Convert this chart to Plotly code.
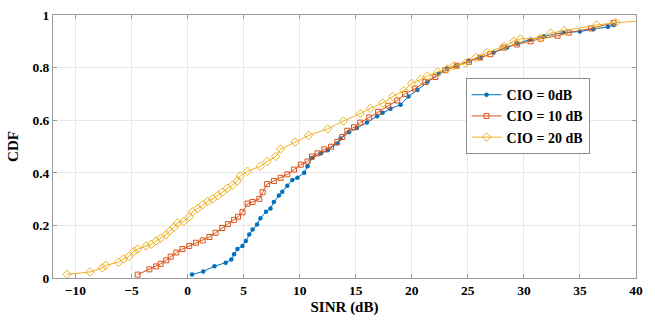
import plotly.graph_objects as go

# ---- data ----
blue_x = [0.4, 1.4, 2.4, 3.4, 3.9, 4.15, 4.45, 4.9, 5.2, 5.5, 5.8, 6.2, 6.5, 7.0, 7.4, 7.7,
          8.15, 8.45, 8.9, 9.35, 9.8, 10.4, 10.7, 11.1, 11.9, 12.5, 13.35, 13.65, 14.4, 15.1,
          16.0, 16.9, 17.4, 18.1, 19.0, 19.7, 20.5, 21.4, 22.4, 23.15, 24.0, 25.1, 26.1, 27.3,
          28.5, 29.4, 30.6, 31.8, 33.5, 35.0, 36.2, 37.5, 38.0]
blue_y = [0.013, 0.025, 0.045, 0.058, 0.07, 0.09, 0.11, 0.122, 0.141, 0.165, 0.184, 0.203,
          0.227, 0.252, 0.264, 0.289, 0.314, 0.328, 0.351, 0.373, 0.381, 0.40, 0.425, 0.456,
          0.474, 0.486, 0.511, 0.53, 0.554, 0.57, 0.591, 0.615, 0.628, 0.644, 0.659, 0.69,
          0.715, 0.746, 0.777, 0.797, 0.807, 0.826, 0.838, 0.857, 0.876, 0.892, 0.907, 0.919,
          0.933, 0.937, 0.946, 0.955, 0.962]

orange_x = [-4.45, -3.4, -2.8, -2.4, -1.9, -1.5, -1.0, -0.45, 0.15, 0.75, 1.35, 1.95, 2.5,
            3.1, 3.6, 4.15, 4.5, 4.9, 5.35, 5.8, 6.4, 6.7, 7.1, 7.7, 8.3, 8.9, 9.5, 10.1,
            10.7, 11.1, 11.6, 12.2, 12.8, 13.35, 13.8, 14.25, 14.85, 15.4, 16.2, 17.0, 17.9,
            18.7, 19.4, 20.3, 21.2, 22.1, 23.0, 24.0, 25.1, 26.1, 27.0, 28.2, 29.4, 30.6,
            31.5, 33.0, 34.0, 36.0, 38.0]
orange_y = [0.013, 0.033, 0.044, 0.054, 0.067, 0.081, 0.097, 0.11, 0.122, 0.134, 0.143,
            0.156, 0.172, 0.19, 0.205, 0.221, 0.233, 0.25, 0.283, 0.289, 0.301, 0.326, 0.357,
            0.369, 0.381, 0.394, 0.412, 0.431, 0.443, 0.462, 0.474, 0.489, 0.499, 0.517,
            0.536, 0.56, 0.573, 0.591, 0.61, 0.632, 0.655, 0.675, 0.7, 0.72, 0.745, 0.764,
            0.79, 0.807, 0.822, 0.838, 0.851, 0.876, 0.888, 0.9, 0.91, 0.921, 0.933, 0.949,
            0.97]

yellow_x = [-10.75, -8.7, -7.6, -7.3, -6.15, -5.7, -5.25, -4.8, -4.45, -3.7, -3.25, -2.8,
            -2.4, -1.9, -1.6, -1.2, -0.9, -0.35, 0.15, 0.45, 0.9, 1.35, 1.8, 2.25, 2.7, 3.1,
            3.55, 4.0, 4.45, 4.7, 5.35, 6.5, 7.1, 7.85, 8.3, 9.6, 10.8, 12.5, 13.9, 15.4,
            16.3, 17.4, 18.3, 19.3, 20.0, 20.8, 21.4, 22.3, 23.15, 23.75, 24.8, 25.7, 26.7,
            28.2, 29.1, 29.7, 31.5, 32.4, 33.6, 36.5, 38.2, 45.0]
yellow_y = [0.014, 0.023, 0.038, 0.048, 0.06, 0.073, 0.081, 0.101, 0.11, 0.122, 0.128,
            0.141, 0.151, 0.165, 0.178, 0.193, 0.209, 0.215, 0.233, 0.252, 0.264, 0.279,
            0.291, 0.301, 0.314, 0.326, 0.341, 0.353, 0.369, 0.388, 0.406, 0.425, 0.443,
            0.462, 0.49, 0.517, 0.542, 0.567, 0.597, 0.625, 0.645, 0.665, 0.69, 0.712, 0.74,
            0.755, 0.768, 0.783, 0.795, 0.807, 0.817, 0.838, 0.857, 0.881, 0.9, 0.909, 0.912,
            0.931, 0.941, 0.962, 0.971, 0.99]

series_names = ["CIO = 0dB", "CIO = 10 dB", "CIO = 20 dB"]
x_ticks = [-10, -5, 0, 5, 10, 15, 20, 25, 30, 35, 40]
y_ticks = [0, 0.2, 0.4, 0.6, 0.8, 1]
y_tick_labels = ["0", "0.2", "0.4", "0.6", "0.8", "1"]

FONT = "Liberation Serif"

fig = go.Figure()
fig.add_trace(go.Scatter(
    x=blue_x, y=blue_y, mode="lines+markers", name=series_names[0],
    line=dict(color="#0072BD", width=1),
    marker=dict(symbol="circle", size=4.5, color="#0072BD")))
fig.add_trace(go.Scatter(
    x=orange_x, y=orange_y, mode="lines+markers", name=series_names[1],
    line=dict(color="#D95319", width=1),
    marker=dict(symbol="square-open", size=5, color="#D95319", line=dict(width=1))))
fig.add_trace(go.Scatter(
    x=yellow_x, y=yellow_y, mode="lines+markers", name=series_names[2],
    line=dict(color="#EDB120", width=1),
    marker=dict(symbol="diamond-open", size=6.5, color="#EDB120", line=dict(width=1))))

axis_common = dict(
    showgrid=True, gridcolor="#e8e8e8", gridwidth=1,
    showline=True, linecolor="#9a9a9a", linewidth=1, mirror="ticks",
    ticks="inside", ticklen=4, tickcolor="#9a9a9a",
    zeroline=False,
    tickfont=dict(family=FONT, size=13.5, color="black", weight="bold"),
)

fig.update_layout(
    width=655, height=321,
    margin=dict(l=53, r=19, t=8, b=43),
    paper_bgcolor="white", plot_bgcolor="white",
    font=dict(family=FONT, color="black"),
    showlegend=True,
    legend=dict(
        x=0.814, y=0.76, xanchor="center", yanchor="top",
        bgcolor="white", bordercolor="#8c8c8c", borderwidth=1,
        font=dict(family=FONT, size=14, color="black", weight="bold"),
        tracegroupgap=0, itemwidth=30,
    ),
)
fig.update_xaxes(
    range=[-12, 40], tickvals=x_ticks, **axis_common,
    title=dict(text="<b>SINR (dB)</b>", font=dict(family=FONT, size=15), standoff=4),
)
fig.update_yaxes(
    range=[0, 1], tickvals=y_ticks, ticktext=y_tick_labels, **axis_common,
    title=dict(text="<b>CDF</b>", font=dict(family=FONT, size=15), standoff=10),
)

fig.write_html("out.html", config={"displayModeBar": False},
               post_script="document.body.style.margin='0';")
